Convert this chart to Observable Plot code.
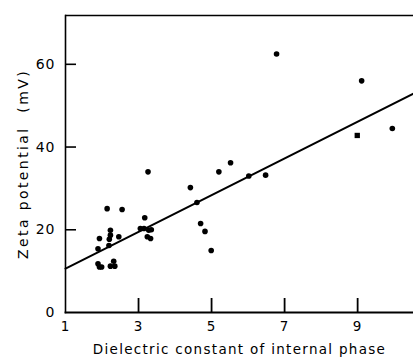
<!DOCTYPE html>
<html>
<head>
<meta charset="utf-8">
<script src="https://cdn.jsdelivr.net/npm/d3@7"></script>
<script src="https://cdn.jsdelivr.net/npm/@observablehq/plot@0.6"></script>
<style>
  html, body { margin: 0; padding: 0; background: #fff; }
</style>
</head>
<body>
<div id="chart"></div>
<script>
// Dielectric constant of internal phase (x) vs zeta potential in mV (y)
const circleX = [1.93, 1.89, 2.23, 2.23, 2.20, 2.19, 2.46, 1.89, 1.99, 1.93, 2.23, 2.35, 2.32,
                 2.14, 2.55, 3.17, 3.05, 3.15, 3.28, 3.24, 3.33, 3.35, 3.26,
                 4.42, 4.60, 4.70, 4.82, 4.99, 5.20, 5.52, 6.02, 6.48, 6.78, 9.11, 9.95];
const circleY = [17.9, 15.4, 19.9, 18.7, 17.7, 16.2, 18.3, 11.8, 11.0, 11.0, 11.2, 11.2, 12.4,
                 25.1, 24.9, 22.9, 20.3, 20.3, 19.9, 18.3, 17.9, 20.0, 34.0,
                 30.2, 26.6, 21.5, 19.6, 15.0, 34.0, 36.2, 33.0, 33.2, 62.5, 56.0, 44.5];
const squareX = [8.99];
const squareY = [42.8];
// regression line end points
const fitX = [1, 10.55];
const fitY = [10.6, 53.0];
const xDomain = [1, 10.53];
const yDomain = [0, 71.8];
const xTicks = [1, 3, 5, 7, 9];
const xTickMarks = [3, 5, 7, 9];
const yTicks = [0, 20, 40, 60];
const yTickMarks = [20, 40, 60];

const circles = circleX.map((x, i) => ({x, y: circleY[i]}));
const squares = squareX.map((x, i) => ({x, y: squareY[i]}));
const fit = fitX.map((x, i) => ({x, y: fitY[i]}));

const chart = Plot.plot({
  width: 413,
  height: 359,
  marginLeft: 65,
  marginRight: 0,
  marginTop: 15,
  marginBottom: 47,
  style: {fontFamily: "DejaVu Sans", fontSize: "12px", color: "#000", background: "#fff"},
  x: {domain: xDomain},
  y: {domain: yDomain},
  marks: [
    Plot.frame({anchor: "left", stroke: "#000", strokeWidth: 1.6}),
    Plot.frame({anchor: "bottom", stroke: "#000", strokeWidth: 1.8}),
    Plot.ruleY([yDomain[1]], {stroke: "#000", strokeWidth: 1.4}),
    Plot.axisX({ticks: xTicks, tickSize: 0, tickPadding: 9, tickFormat: d => String(d),
      label: "Dielectric constant of internal phase", labelAnchor: "center", labelArrow: "none",
      labelOffset: 41, fontSize: 13.5}),
    Plot.axisY({ticks: yTicks, tickSize: 0, tickPadding: 10, tickFormat: d => String(d),
      label: "Zeta potential  (mV)", labelAnchor: "center", labelArrow: "none",
      labelOffset: 47, fontSize: 14}),
    Plot.axisX(xTickMarks, {tickSize: -14, stroke: "#000", strokeWidth: 1.8, text: null, label: null}),
    Plot.axisY(yTickMarks, {tickSize: -11, stroke: "#000", strokeWidth: 1.6, text: null, label: null}),
    Plot.line(fit, {x: "x", y: "y", stroke: "#000", strokeWidth: 2}),
    Plot.dot(circles, {x: "x", y: "y", r: 2.8, fill: "#000", stroke: "none"}),
    Plot.dot(squares, {x: "x", y: "y", r: 3, symbol: "square", fill: "#000", stroke: "none"})
  ]
});
document.getElementById("chart").appendChild(chart);
chart.querySelectorAll('[aria-label="x-axis label"] text').forEach(t => t.style.letterSpacing = "1.3px");
chart.querySelectorAll('[aria-label="y-axis label"] text').forEach(t => t.style.letterSpacing = "2.4px");
chart.querySelectorAll('[aria-label="x-axis tick label"] text, [aria-label="y-axis tick label"] text')
  .forEach(t => t.style.letterSpacing = "1px");
</script>
</body>
</html>
